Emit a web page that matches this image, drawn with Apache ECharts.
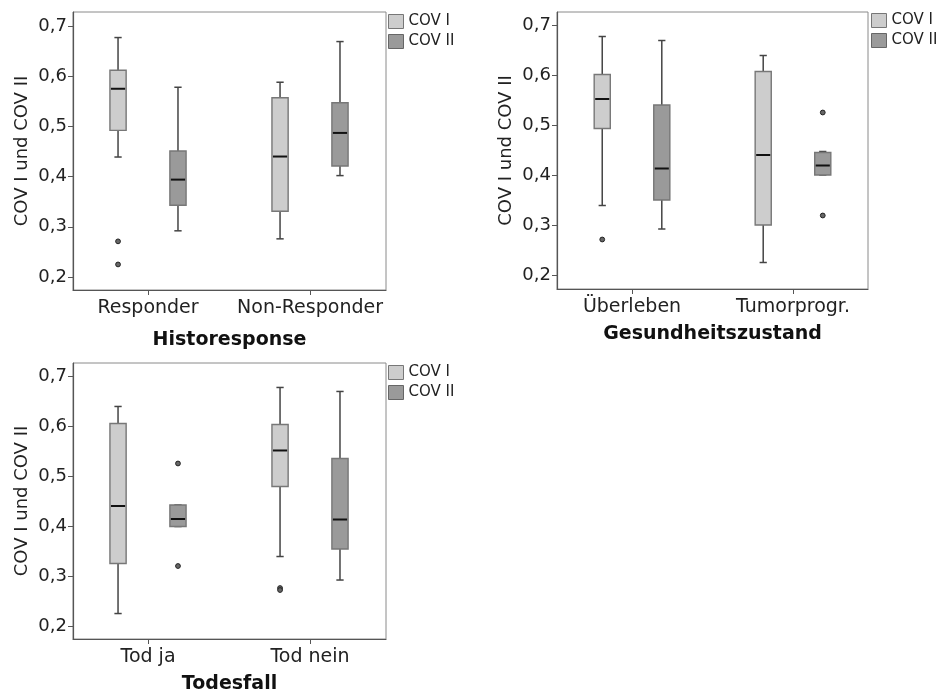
<!DOCTYPE html>
<html>
<head>
<meta charset="utf-8">
<script src="https://cdn.jsdelivr.net/npm/echarts@6/dist/echarts.min.js"></script>
<style>
  html, body { margin: 0; padding: 0; background: #fff; }
  #chart { width: 938px; height: 695px; }
</style>
</head>
<body>
<div id="chart"></div>
<script>
// Werte: [min, Q1, Median, Q3, max]
const yTicks = [0.2, 0.3, 0.4, 0.5, 0.6, 0.7];

const histoCats = ['Responder', 'Non-Responder'];
const histoCov1 = [[0.439, 0.492, 0.575, 0.612, 0.677], [0.276, 0.331, 0.440, 0.557, 0.588]];
const histoCov2 = [[0.292, 0.343, 0.394, 0.451, 0.578], [0.402, 0.421, 0.487, 0.547, 0.669]];
const histoOut1 = [[0, 0.271], [0, 0.225]];
const histoOut2 = [];

const gesCats = ['Überleben', 'Tumorprogr.'];
const gesCov1 = [[0.339, 0.493, 0.552, 0.601, 0.677], [0.225, 0.300, 0.440, 0.607, 0.639]];
const gesCov2 = [[0.292, 0.350, 0.413, 0.540, 0.669], [0.400, 0.400, 0.419, 0.445, 0.447]];
const gesOut1 = [[0, 0.271]];
const gesOut2 = [[1, 0.525], [1, 0.319]];

const todCats = ['Tod ja', 'Tod nein'];
const todCov1 = [[0.225, 0.325, 0.440, 0.605, 0.639], [0.339, 0.479, 0.551, 0.603, 0.677]];
const todCov2 = [[0.399, 0.399, 0.414, 0.442, 0.442], [0.292, 0.354, 0.413, 0.535, 0.669]];
const todOut1 = [[1, 0.276], [1, 0.272]];
const todOut2 = [[0, 0.525], [0, 0.320]];

const FONT = 'DejaVu Sans';
const fill1 = '#cdcdcd';
const fill2 = '#9a9a9a';
const offsets = [-0.185, 0.185];
const boxW = 0.1;
const capW = 0.045;

const chart = echarts.init(document.getElementById('chart'));

const boxRender = (covIdx, fill) => (params, api) => {
  const x = api.value(0) + offsets[covIdx];
  const pt = v => api.coord([x, v]);
  const xl = api.coord([x - boxW / 2, 0])[0];
  const xr = api.coord([x + boxW / 2, 0])[0];
  const cl = api.coord([x - capW / 2, 0])[0];
  const cr = api.coord([x + capW / 2, 0])[0];
  const xc = pt(0.5)[0];
  const yMin = pt(api.value(1))[1];
  const yQ1 = pt(api.value(2))[1];
  const yMed = pt(api.value(3))[1];
  const yQ3 = pt(api.value(4))[1];
  const yMax = pt(api.value(5))[1];
  const wStyle = { stroke: '#444', lineWidth: 1.5 };
  return {
    type: 'group',
    children: [
      { type: 'line', shape: { x1: xc, y1: yQ3, x2: xc, y2: yMax }, style: wStyle },
      { type: 'line', shape: { x1: xc, y1: yQ1, x2: xc, y2: yMin }, style: wStyle },
      { type: 'line', shape: { x1: cl, y1: yMax, x2: cr, y2: yMax }, style: wStyle },
      { type: 'line', shape: { x1: cl, y1: yMin, x2: cr, y2: yMin }, style: wStyle },
      { type: 'rect', shape: { x: xl, y: yQ3, width: xr - xl, height: yQ1 - yQ3 },
        style: { fill: fill, stroke: '#777', lineWidth: 1.4 } },
      { type: 'line', shape: { x1: xl + 1, y1: yMed, x2: xr - 1, y2: yMed },
        style: { stroke: '#111', lineWidth: 2 } }
    ]
  };
};

const outRender = covIdx => (params, api) => {
  const p = api.coord([api.value(0) + offsets[covIdx], api.value(1)]);
  return {
    type: 'circle',
    shape: { cx: p[0], cy: p[1], r: 2.4 },
    style: { fill: '#666', stroke: '#222', lineWidth: 1 }
  };
};

const panels = [
  { cats: histoCats, c1: histoCov1, c2: histoCov2, o1: histoOut1, o2: histoOut2, title: 'Historesponse',
    grid: { left: 73, top: 12, width: 313, height: 278 }, ymin: 0.1741, ymax: 0.7279,
    xmin: -0.463, xmax: 1.469, nameGap: 41, legend: { left: 388, top: 14 } },
  { cats: gesCats, c1: gesCov1, c2: gesCov2, o1: gesOut1, o2: gesOut2, title: 'Gesundheitszustand',
    grid: { left: 557, top: 12, width: 311, height: 277 }, ymin: 0.172, ymax: 0.726,
    xmin: -0.466, xmax: 1.466, nameGap: 36, legend: { left: 871, top: 13 } },
  { cats: todCats, c1: todCov1, c2: todCov2, o1: todOut1, o2: todOut2, title: 'Todesfall',
    grid: { left: 73, top: 363, width: 313, height: 277 }, ymin: 0.1741, ymax: 0.7259,
    xmin: -0.463, xmax: 1.469, nameGap: 36, legend: { left: 388, top: 365 } }
];

const grids = [], xAxes = [], yAxes = [], series = [], legends = [];
panels.forEach((p, i) => {
  grids.push(Object.assign({ show: true, borderColor: '#8a8a8a', borderWidth: 1, backgroundColor: '#fff' }, p.grid));
  xAxes.push({
    type: 'value', gridIndex: i, min: p.xmin, max: p.xmax,
    name: p.title, nameLocation: 'middle', nameGap: p.nameGap,
    nameTextStyle: { fontFamily: FONT, fontSize: 19, fontWeight: 'bold', color: '#111' },
    axisLine: { show: true, onZero: false, lineStyle: { color: '#555', width: 1.2 } },
    axisTick: { show: true, length: 5, customValues: [0, 1], lineStyle: { color: '#555' } },
    axisLabel: { customValues: [0, 1], formatter: v => p.cats[Math.round(v)], margin: 9,
      fontFamily: FONT, fontSize: 19, color: '#222' },
    splitLine: { show: false }
  });
  yAxes.push({
    type: 'value', gridIndex: i, min: p.ymin, max: p.ymax,
    name: 'COV I und COV II', nameLocation: 'middle', nameGap: 42, nameRotate: 90,
    nameTextStyle: { fontFamily: FONT, fontSize: 18, color: '#222' },
    axisLine: { show: true, onZero: false, lineStyle: { color: '#555', width: 1.2 } },
    axisTick: { show: true, length: 5, customValues: yTicks, lineStyle: { color: '#555' } },
    axisLabel: { customValues: yTicks, formatter: v => v.toFixed(1).replace('.', ','), margin: 6,
      fontFamily: FONT, fontSize: 18, color: '#222' },
    splitLine: { show: false }
  });
  const mk = stats => stats.map((s, c) => [c].concat(s));
  series.push({
    type: 'custom', name: 'COV I', xAxisIndex: i, yAxisIndex: i,
    itemStyle: { color: fill1, borderColor: '#777' },
    encode: { x: 0, y: [1, 2, 3, 4, 5] }, data: mk(p.c1), renderItem: boxRender(0, fill1)
  });
  series.push({
    type: 'custom', name: 'COV II', xAxisIndex: i, yAxisIndex: i,
    itemStyle: { color: fill2, borderColor: '#666' },
    encode: { x: 0, y: [1, 2, 3, 4, 5] }, data: mk(p.c2), renderItem: boxRender(1, fill2)
  });
  series.push({
    type: 'custom', name: 'Ausreißer I', xAxisIndex: i, yAxisIndex: i,
    encode: { x: 0, y: 1 }, data: p.o1, renderItem: outRender(0)
  });
  series.push({
    type: 'custom', name: 'Ausreißer II', xAxisIndex: i, yAxisIndex: i,
    encode: { x: 0, y: 1 }, data: p.o2, renderItem: outRender(1)
  });
  legends.push({
    left: p.legend.left, top: p.legend.top, orient: 'vertical', padding: 0,
    itemWidth: 15, itemHeight: 14, itemGap: 5, icon: 'rect', selectedMode: false,
    textStyle: { fontFamily: FONT, fontSize: 15, color: '#222' },
    data: [
      { name: 'COV I', itemStyle: { color: fill1, borderColor: '#777', borderWidth: 1 } },
      { name: 'COV II', itemStyle: { color: fill2, borderColor: '#666', borderWidth: 1 } }
    ]
  });
});

chart.setOption({
  animation: false,
  backgroundColor: '#fff',
  grid: grids,
  xAxis: xAxes,
  yAxis: yAxes,
  legend: legends,
  series: series
});
</script>
</body>
</html>
